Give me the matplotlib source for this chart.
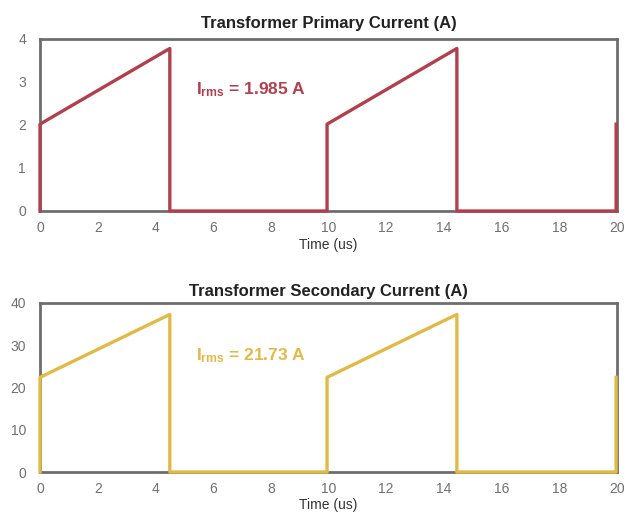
import matplotlib
matplotlib.use('Agg')
import matplotlib.pyplot as plt

plt.rcParams['font.family'] = ['Liberation Sans', 'DejaVu Sans']
plt.rcParams['mathtext.fontset'] = 'custom'
plt.rcParams['mathtext.rm'] = 'Liberation Sans'
plt.rcParams['mathtext.bf'] = 'Liberation Sans:bold'

# waveform corner points (time in us)
time_us = [0, 0, 4.5, 4.5, 9.95, 9.95, 14.45, 14.45, 19.97, 19.97]
primary_a = [0, 2.02, 3.78, 0, 0, 2.02, 3.78, 0, 0, 2.02]
secondary_a = [0, 22.4, 37.3, 0, 0, 22.4, 37.3, 0, 0, 22.4]

x_ticks = [0, 2, 4, 6, 8, 10, 12, 14, 16, 18, 20]
primary_ticks = [0, 1, 2, 3, 4]
secondary_ticks = [0, 10, 20, 30, 40]

primary_color = '#b2404c'
secondary_color = '#e3b946'
frame_color = '#6e6e6e'
tick_color = '#707070'


def style_axes(ax, yticks, title, title_pad):
    ax.set_xlim(0, 20)
    ax.set_ylim(yticks[0], yticks[-1])
    ax.set_xticks(x_ticks)
    ax.set_yticks(yticks)
    ax.tick_params(axis='x', length=0, colors=tick_color, labelsize=10, pad=7)
    ax.tick_params(axis='y', length=0, colors=tick_color, labelsize=10, pad=10)
    for s in ax.spines.values():
        s.set_color(frame_color)
        s.set_linewidth(2)
    ax.set_title(title, fontsize=12, fontweight='bold', color='#222222', pad=title_pad)
    ax.xaxis.set_label_coords(0.51, -0.155)
    ax.set_xlabel('Time (us)', fontsize=10, color='#333333')


fig = plt.figure(figsize=(6.4, 5.13), dpi=100)
ax1 = fig.add_axes([40 / 640, 1 - 211 / 513, 577 / 640, 172 / 513])
ax2 = fig.add_axes([40 / 640, 1 - 472 / 513, 577 / 640, 169 / 513])

ax1.plot(time_us, primary_a, color=primary_color, lw=2.4, clip_on=False, zorder=3)
style_axes(ax1, primary_ticks, 'Transformer Primary Current (A)', 8)
ax1.text(5.4, 2.72, r'$\mathbf{I_{rms}}$ = 1.985 A', color=primary_color,
         fontsize=12.5, fontweight='bold')

ax2.plot(time_us, secondary_a, color=secondary_color, lw=2.4, clip_on=False, zorder=3)
style_axes(ax2, secondary_ticks, 'Transformer Secondary Current (A)', 5)
ax2.text(5.4, 26.5, r'$\mathbf{I_{rms}}$ = 21.73 A', color=secondary_color,
         fontsize=12.5, fontweight='bold')

fig.savefig('out.png', dpi=100)
